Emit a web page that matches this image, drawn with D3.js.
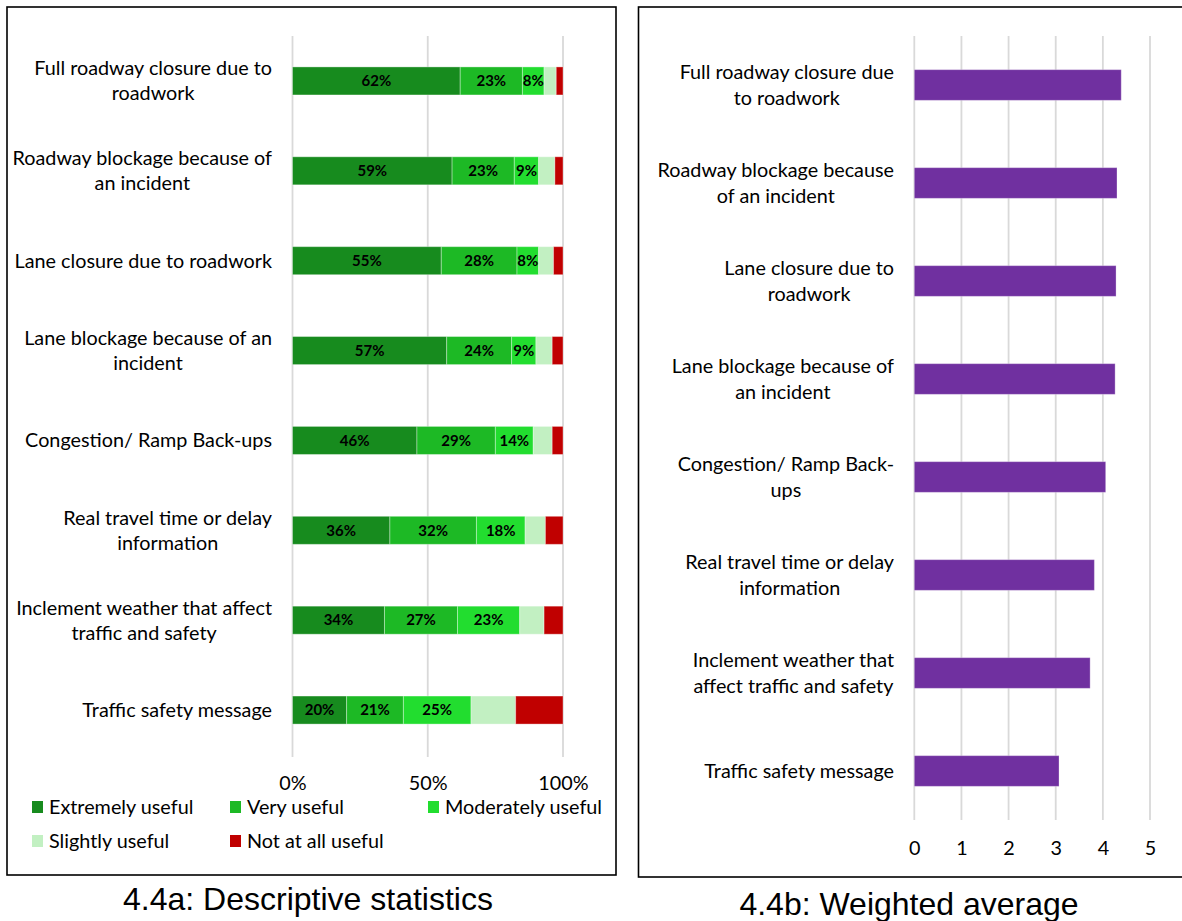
<!DOCTYPE html>
<html>
<head>
<meta charset="utf-8">
<script src="https://cdn.jsdelivr.net/npm/d3@7"></script>
<style>
  html, body { margin: 0; padding: 0; background: #fff; }
  svg { display: block; }
</style>
</head>
<body>
<svg id="fig" width="1182" height="921"></svg>
<script>
// Information types, top to bottom (wrapped lines per panel)
const categoriesLeft = [
  ["Full roadway closure due to", "roadwork"],
  ["Roadway blockage because of", "an incident"],
  ["Lane closure due to roadwork"],
  ["Lane blockage because of an", "incident"],
  ["Congestion/ Ramp Back-ups"],
  ["Real travel time or delay", "information"],
  ["Inclement weather that affect", "traffic and safety"],
  ["Traffic safety message"]
];
const categoriesRight = [
  ["Full roadway closure due", "to roadwork"],
  ["Roadway blockage because", "of an incident"],
  ["Lane closure due to", "roadwork"],
  ["Lane blockage because of", "an incident"],
  ["Congestion/ Ramp Back-", "ups"],
  ["Real travel time or delay", "information"],
  ["Inclement weather that", "affect traffic and safety"],
  ["Traffic safety message"]
];

// Response shares (%) per usefulness level
const seriesNames = ["Extremely useful", "Very useful", "Moderately useful", "Slightly useful", "Not at all useful"];
const extremelyUseful = [62, 59, 55, 57, 46, 36, 34, 20];
const veryUseful      = [23, 23, 28, 24, 29, 32, 27, 21];
const moderatelyUseful= [8, 9, 8, 9, 14, 18, 23, 25];
const slightlyUseful  = [4.5, 6, 5.5, 6, 7, 7.5, 9, 16.5];
const notAtAllUseful  = [2.5, 3, 3.5, 4, 4, 6.5, 7, 17.5];
const labelledSeries  = [true, true, true, false, false];

// Weighted average score (0-5)
const weightedAverage = [4.39, 4.30, 4.28, 4.26, 4.06, 3.82, 3.73, 3.07];

const pctTicks = [0, 50, 100];
const scoreTicks = [0, 1, 2, 3, 4, 5];
const captions = ["4.4a: Descriptive statistics", "4.4b: Weighted average"];

const seriesColors = ["#178b1e", "#1db925", "#22dd2f", "#c2f0c2", "#c00000"];
const barPurple = "#7030a0";
const gridColor = "#d9d9d9";
const labelFont = "Lato, 'Open Sans', sans-serif";
const labelSize = 19.8;

const svg = d3.select("#fig");
svg.append("rect").attr("width", 1182).attr("height", 921).attr("fill", "#fff");

// Panel frames
svg.append("rect").attr("x", 7).attr("y", 7).attr("width", 609).attr("height", 868)
  .attr("fill", "none").attr("stroke", "#000").attr("stroke-width", 1.6);
svg.append("rect").attr("x", 638.5).attr("y", 7).attr("width", 560).attr("height", 870)
  .attr("fill", "none").attr("stroke", "#000").attr("stroke-width", 1.6);

// Writes a wrapped category label, right-aligned as a block, each line centred within it
function drawCategoryLabel(g, lines, rightX, cy, lineH) {
  const t = g.append("g");
  const texts = lines.map(l => t.append("text").text(l)
    .attr("font-family", labelFont).attr("font-size", labelSize).attr("fill", "#000")
    .attr("text-anchor", "middle"));
  const maxW = d3.max(texts, s => s.node().getComputedTextLength());
  const cx = rightX - maxW / 2;
  const top = cy - (lines.length - 1) * lineH / 2;
  texts.forEach((s, i) => s.attr("x", cx).attr("y", top + i * lineH).attr("dy", "0.35em"));
}

// ---------- Left panel: 100% stacked bars ----------
const idx = d3.range(categoriesLeft.length);
const rows = idx.map(i => ({
  i,
  vals: [extremelyUseful[i], veryUseful[i], moderatelyUseful[i], slightlyUseful[i], notAtAllUseful[i]]
}));

const xL = d3.scaleLinear().domain([0, 100]).range([292.5, 563]);
const yL = d3.scaleBand().domain(idx).range([36, 755]).paddingInner(0.688).paddingOuter(0.344);

const gL = svg.append("g");
gL.append("g").selectAll("line").data(pctTicks).join("line")
  .attr("x1", d => xL(d)).attr("x2", d => xL(d))
  .attr("y1", 36).attr("y2", 757)
  .attr("stroke", gridColor).attr("stroke-width", 1.8);

const xAxisL = d3.axisBottom(xL).tickValues(pctTicks).tickFormat(d => d + "%").tickSize(0).tickPadding(0);
gL.append("g").attr("transform", "translate(0,783)").call(xAxisL)
  .call(a => a.select(".domain").remove())
  .selectAll("text").attr("font-family", labelFont).attr("font-size", labelSize).attr("fill", "#000").attr("dy", "0.35em");

const stackData = rows.map(r => {
  let acc = 0;
  return r.vals.map((v, s) => { const seg = { i: r.i, s, v, x0: acc, x1: acc + v }; acc += v; return seg; });
}).flat();

gL.append("g").selectAll("rect").data(stackData).join("rect")
  .attr("x", d => xL(d.x0)).attr("width", d => xL(d.x1) - xL(d.x0))
  .attr("y", d => yL(d.i)).attr("height", yL.bandwidth())
  .attr("fill", d => seriesColors[d.s])
  .attr("stroke", "rgba(255,255,255,0.35)").attr("stroke-width", 1);

gL.append("g").selectAll("text").data(stackData.filter(d => labelledSeries[d.s])).join("text")
  .attr("x", d => xL((d.x0 + d.x1) / 2))
  .attr("y", d => yL(d.i) + yL.bandwidth() / 2)
  .attr("dy", "0.35em").attr("text-anchor", "middle")
  .attr("font-family", labelFont).attr("font-size", 15).attr("font-weight", 700).attr("fill", "#000")
  .text(d => Math.round(d.v) + "%");

idx.forEach(i => drawCategoryLabel(gL, categoriesLeft[i], 272, yL(i) + yL.bandwidth() / 2, 25));

// Legend
const legendPos = [[32, 807], [230, 807], [428, 807], [32, 841], [230, 841]];
const leg = gL.append("g").selectAll("g").data(seriesNames).join("g")
  .attr("transform", (d, k) => `translate(${legendPos[k][0]},${legendPos[k][1]})`);
leg.append("rect").attr("x", 0).attr("y", -6).attr("width", 11).attr("height", 12)
  .attr("fill", (d, k) => seriesColors[k]);
leg.append("text").attr("x", 17).attr("dy", "0.35em")
  .attr("font-family", labelFont).attr("font-size", labelSize).attr("fill", "#000").text(d => d);

// ---------- Right panel: weighted average bars ----------
const xR = d3.scaleLinear().domain([0, 5]).range([914.3, 1150]);
const yR = d3.scaleBand().domain(idx).range([36, 820]).paddingInner(0.687).paddingOuter(0.3435);

const gR = svg.append("g");
gR.append("g").selectAll("line").data(scoreTicks).join("line")
  .attr("x1", d => xR(d)).attr("x2", d => xR(d))
  .attr("y1", 36).attr("y2", 820)
  .attr("stroke", gridColor).attr("stroke-width", 1.8);

const xAxisR = d3.axisBottom(xR).tickValues(scoreTicks).tickFormat(d3.format("d")).tickSize(0).tickPadding(0);
gR.append("g").attr("transform", "translate(0,848)").call(xAxisR)
  .call(a => a.select(".domain").remove())
  .selectAll("text").attr("font-family", labelFont).attr("font-size", labelSize).attr("fill", "#000").attr("dy", "0.35em");

gR.append("g").selectAll("rect").data(idx).join("rect")
  .attr("x", xR(0)).attr("width", i => xR(weightedAverage[i]) - xR(0))
  .attr("y", i => yR(i)).attr("height", yR.bandwidth())
  .attr("fill", barPurple).attr("stroke", "rgba(255,255,255,0.3)").attr("stroke-width", 1);

idx.forEach(i => drawCategoryLabel(gR, categoriesRight[i], 894, yR(i) + yR.bandwidth() / 2, 26));

// Captions
svg.append("text").attr("x", 308).attr("y", 899).attr("dy", "0.35em").attr("text-anchor", "middle")
  .attr("font-family", "'Liberation Sans', Arial, sans-serif").attr("font-size", 32).attr("fill", "#000")
  .text(captions[0]);
svg.append("text").attr("x", 909).attr("y", 904).attr("dy", "0.35em").attr("text-anchor", "middle")
  .attr("font-family", "'Liberation Sans', Arial, sans-serif").attr("font-size", 32).attr("fill", "#000")
  .text(captions[1]);
</script>
</body>
</html>
